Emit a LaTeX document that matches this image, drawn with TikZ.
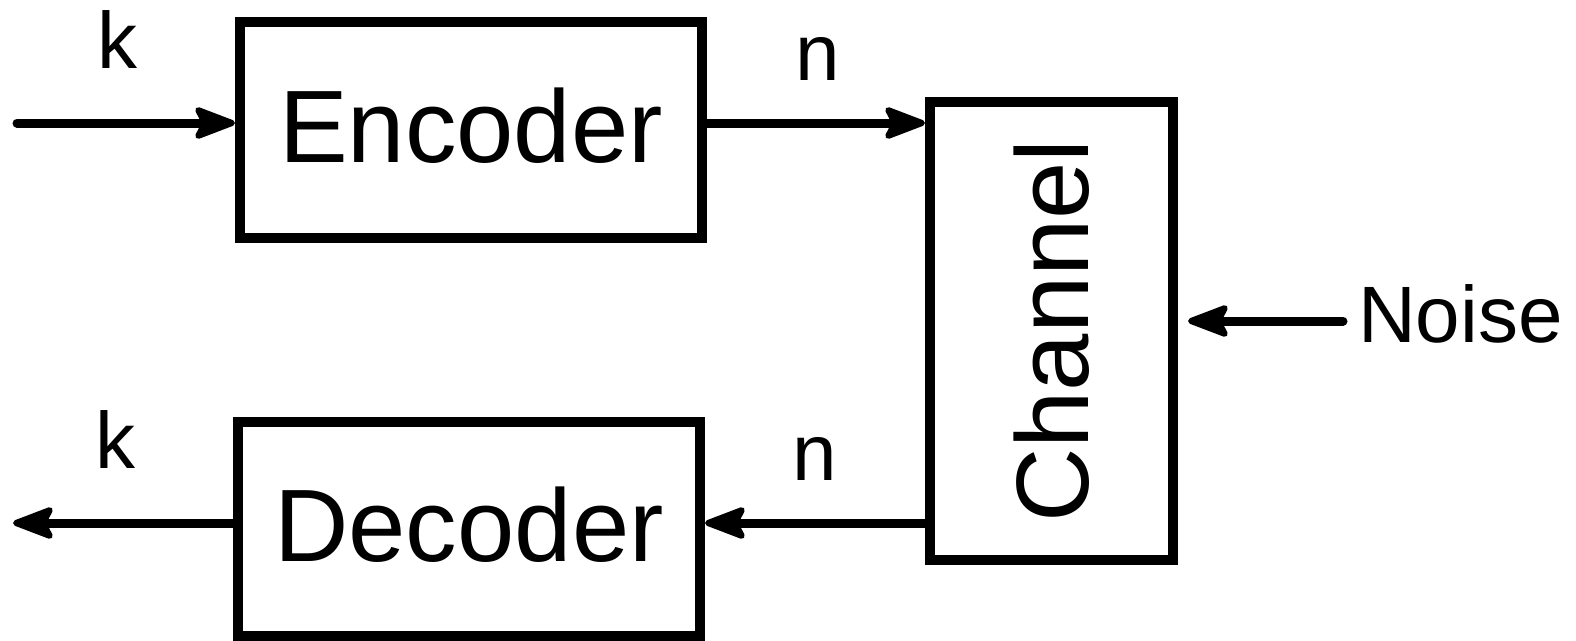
\documentclass[tikz,border=0pt]{standalone}
\usepackage{fontspec}
\setmainfont{Liberation Sans}
\usetikzlibrary{arrows.meta}
\begin{document}
\begin{tikzpicture}[x=1pt,y=-1pt,
  box/.style={draw, line width=10pt, inner sep=0pt,
    font=\fontsize{103}{110}\selectfont},
  wordbox/.style={box, text height=75pt, text depth=10pt},
  flow/.style={line width=9pt, line cap=round,
    -{Stealth[length=48pt 0 0,width=36pt 0 0,inset=9pt,line width=6pt,round,fill=black]}},
  lbl/.style={font=\fontsize{80}{90}\selectfont, inner sep=0pt, anchor=base}]
\useasboundingbox (0,0) rectangle (1576,640);

% blocks
\node[wordbox, minimum width=462pt, minimum height=216pt] (enc) at (471,130) {Encoder};
\node[wordbox, minimum width=462pt, minimum height=214pt] (dec) at (469,529) {Decoder};
\node[box, minimum width=243pt, minimum height=458pt] (chan) at (1051.5,331) {\rotatebox{90}{Channel}};

% labels
\node[lbl] (kin)  at (117,68)  {k};
\node[lbl] (nin)  at (818,80)  {n};
\node[lbl] (kout) at (115,468) {k};
\node[lbl] (nout) at (815,480) {n};
\node[lbl, anchor=base west] (noise) at (1358,342) {Noise};

% free ends of the connectors
\coordinate (src) at (17,123);
\coordinate (snk) at (13,523);
\coordinate (nz)  at (1343,321);

% signal path
\draw[flow] (src) -- (src -| enc.west);
\draw[flow] (enc.east |- src) -- (chan.west |- src);
\draw[flow] (chan.west |- snk) -- (dec.east |- snk);
\draw[flow] (dec.west |- snk) -- (snk);
\draw[flow, shorten >=10pt] (nz) -- (chan.east |- nz);
\end{tikzpicture}
\end{document}
